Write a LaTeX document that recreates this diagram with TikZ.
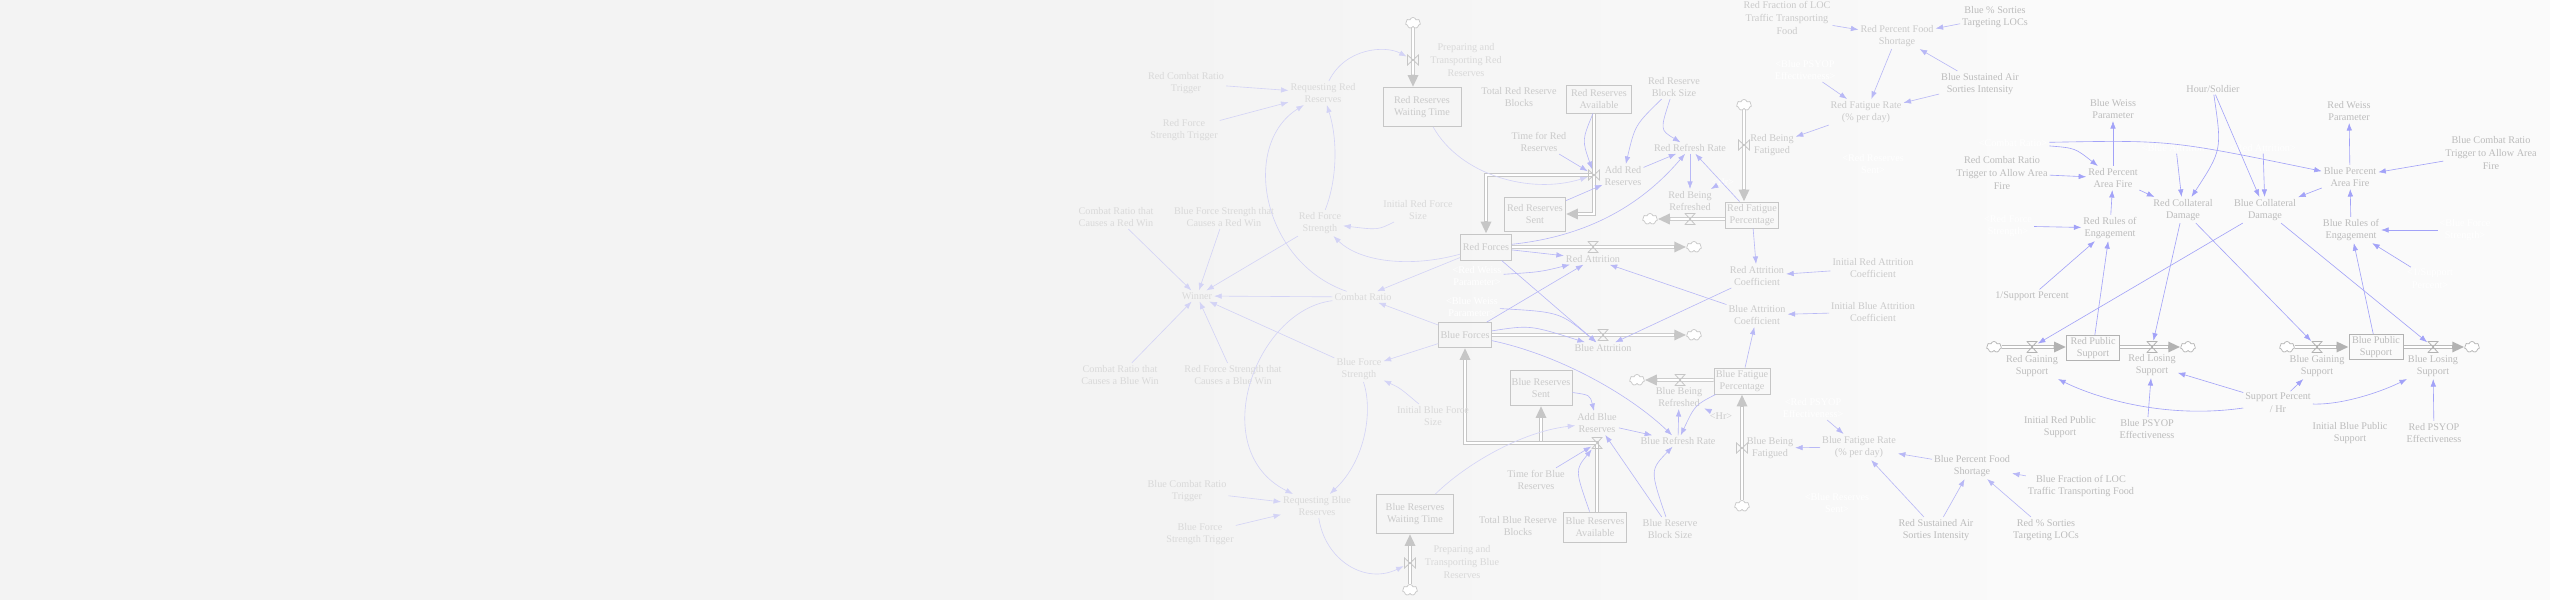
\documentclass[tikz,border=0pt]{standalone}
\usepackage{fontspec}
\setmainfont{Liberation Serif}
\usetikzlibrary{arrows.meta,shapes.symbols}
\pgfdeclarelayer{bg}\pgfdeclarelayer{pipes}\pgfsetlayers{bg,pipes,main}
\definecolor{bgL}{HTML}{F3F3F3}
\definecolor{bgR}{HTML}{FAFAFA}
\definecolor{txtL}{HTML}{D9D9D9}
\definecolor{txtC}{HTML}{CACACA}
\definecolor{txtR}{HTML}{BCBCBC}
\definecolor{arrL}{HTML}{D3D3F6}
\definecolor{arrC}{HTML}{B8B8F6}
\definecolor{arrR}{HTML}{A2A2F8}
\definecolor{pipeC}{HTML}{C6C6C6}
\definecolor{pipeR}{HTML}{B2B2B2}
\newcommand\vtxt{\fontsize{5.8}{7.2}\selectfont}
\newcommand\flowpipe[2][pipeC]{\draw[pipeout,#1] #2; \draw[pipein] #2;}

\begin{document}
\begin{tikzpicture}[x=0.2mm,y=-0.2mm,
 var/.style={align=center,font=\vtxt,inner sep=1pt,text=txtC},
 varL/.style={var,text=txtL}, varR/.style={var,text=txtR}, shadow/.style={var,text=white},
 stock/.style 2 args={draw=pipeC,line width=.5pt,align=center,font=\vtxt,text=txtC,inner sep=1pt,minimum width=#1*0.2mm,minimum height=#2*0.2mm},
 stockR/.style 2 args={stock={#1}{#2},draw=pipeR,text=txtR},
 lnk/.style={draw=arrC,line width=.35pt,-{Latex[length=1.5mm,width=1.1mm]}},
 lnkL/.style={lnk,draw=arrL}, lnkR/.style={lnk,draw=arrR},
 cloudy/.style={cloud,cloud puffs=7,cloud ignores aspect,draw=#1,fill=white,inner sep=0,minimum width=3mm,minimum height=2.2mm,line width=.4pt}, cloudy/.default=pipeC,
 valveH/.style={minimum width=2.2mm,minimum height=2.4mm,inner sep=0,path picture={\draw[#1,line width=.45pt] ([xshift=.3pt,yshift=-.3pt]path picture bounding box.north west) -- ([xshift=-.3pt,yshift=-.3pt]path picture bounding box.north east) -- ([xshift=.3pt,yshift=.3pt]path picture bounding box.south west) -- ([xshift=-.3pt,yshift=.3pt]path picture bounding box.south east) -- cycle;}}, valveH/.default=pipeC,
 valveV/.style={minimum width=2.4mm,minimum height=2.2mm,inner sep=0,path picture={\draw[#1,line width=.45pt] ([xshift=.3pt,yshift=-.3pt]path picture bounding box.north west) -- ([xshift=.3pt,yshift=.3pt]path picture bounding box.south west) -- ([xshift=-.3pt,yshift=-.3pt]path picture bounding box.north east) -- ([xshift=-.3pt,yshift=.3pt]path picture bounding box.south east) -- cycle;}}, valveV/.default=pipeC,
 pipeout/.style={line width=2.1pt,-{Triangle[length=2.4mm,width=2mm]}},
 pipein/.style={draw=white,line width=1.2pt,shorten >=2.5mm}]
\useasboundingbox (0,0) rectangle (2550,600);
\begin{pgfonlayer}{bg}
\fill[bgL] (0,0) rectangle (1150,600); \shade[left color=bgL,right color=bgR] (1149,0) rectangle (2051,600); \fill[bgR] (2050,0) rectangle (2550,600);
\end{pgfonlayer}

\node[stock={78}{39}] (rrwt) at (1422,107) {Red Reserves\\Waiting Time};
\node[stock={65}{28}] (rra) at (1599,99) {Red Reserves\\Available};
\node[stock={61}{34}] (rrs) at (1535,214) {Red Reserves\\Sent};
\node[stock={51}{26}] (rf) at (1486,247) {Red Forces};
\node[stock={51}{26}] (rfp) at (1752,215) {Red Fatigue\\Percentage};
\node[stock={52}{25}] (bf) at (1465,335) {Blue Forces};
\node[stock={62}{35}] (brs) at (1541,388) {Blue Reserves\\Sent};
\node[stock={77}{39}] (brwt) at (1415,514) {Blue Reserves\\Waiting Time};
\node[stock={63}{30}] (bra) at (1595,527) {Blue Reserves\\Available};
\node[stock={52}{26}] (bfp) at (1742,381) {Blue Fatigue\\Percentage};
\node[stockR={53}{25}] (rps) at (2093,348) {Red Public\\Support};
\node[stockR={54}{25}] (bps) at (2376,347) {Blue Public\\Support};

\node[valveV] (vrin) at (1413,60) {}; \node[valveV] (vadr) at (1594,175) {}; \node[valveH] (vra) at (1593,247) {}; \node[valveH] (vba) at (1603,335) {};
\node[valveH] (vrbr) at (1690,219) {}; \node[valveV] (vrbf) at (1744,145) {}; \node[valveH] (vbbr) at (1680,380) {}; \node[valveV] (vbbf) at (1742,448) {};
\node[valveV] (vbin) at (1410,563) {}; \node[valveH] (vadb) at (1597,443) {};
\node[valveH=pipeR] (vrgs) at (2032,347) {}; \node[valveH=pipeR] (vrls) at (2152,347) {}; \node[valveH=pipeR] (vbgs) at (2317,347) {}; \node[valveH=pipeR] (vbls) at (2433,347) {};
\node[cloudy] (c1) at (1413,23) {}; \node[cloudy] (c2) at (1694,247) {}; \node[cloudy] (c3) at (1694,335) {}; \node[cloudy] (c4) at (1650,219) {};
\node[cloudy] (c5) at (1744,105) {}; \node[cloudy] (c6) at (1637,380) {}; \node[cloudy] (c7) at (1742,506) {}; \node[cloudy] (c8) at (1410,590) {};
\node[cloudy=pipeR] (c9) at (1994,347) {}; \node[cloudy=pipeR] (c10) at (2188,347) {}; \node[cloudy=pipeR] (c11) at (2287,347) {}; \node[cloudy=pipeR] (c12) at (2472,347) {};

\begin{pgfonlayer}{pipes}
\flowpipe{(c1) -- (rrwt.north -| c1)}
\flowpipe{(vadr.center) -| (rf.north)}
\flowpipe{(rra.south -| vadr) |- (rrs.east)}
\flowpipe{(rf.east) -- (c2)} \flowpipe{(bf.east) -- (c3)}
\flowpipe{(rfp.west |- c4) -- (c4)} \flowpipe{(c5) -- (rfp.north -| c5)}
\flowpipe{(bfp.west |- c6) -- (c6)} \flowpipe{(c7) -- (bfp.south -| c7)}
\flowpipe{(c8) -- (brwt.south -| c8)}
\flowpipe{(brs.south |- vadb) -- (brs.south)}
\flowpipe{(bra.north -| vadb) -- (vadb.center) -| (bf.south)}
\flowpipe[pipeR]{(c9) -- (rps.west |- c9)} \flowpipe[pipeR]{(rps.east |- c10) -- (c10)}
\flowpipe[pipeR]{(c11) -- (bps.west)} \flowpipe[pipeR]{(bps.east) -- (c12)}
\end{pgfonlayer}

\node[varL] (rcrt) at (1186,83) {Red Combat Ratio\\Trigger};
\node[varL] (rfst) at (1184,130) {Red Force\\Strength Trigger};
\node[varL] (reqr) at (1323,93) {Requesting Red\\Reserves};
\node[varL] (prr) at (1466,60) {Preparing and\\Transporting Red\\Reserves};
\node[varL] (rfs) at (1320,223) {Red Force\\Strength};
\node[varL] (irfs) at (1418,210) {Initial Red Force\\Size};
\node[varL] (crrw) at (1116,217) {Combat Ratio that\\Causes a Red Win};
\node[varL] (bfsrw) at (1224,217) {Blue Force Strength that\\Causes a Red Win};
\node[varL] (win) at (1197,296) {Winner};
\node[varL] (cr) at (1363,297) {Combat Ratio};
\node[varL] (crbw) at (1120,375) {Combat Ratio that\\Causes a Blue Win};
\node[varL] (rfsbw) at (1233,375) {Red Force Strength that\\Causes a Blue Win};
\node[varL] (bfs) at (1359,369) {Blue Force\\Strength};
\node[varL] (ibfs) at (1433,416) {Initial Blue Force\\Size};
\node[varL] (bcrt) at (1187,491) {Blue Combat Ratio\\Trigger};
\node[varL] (bfst) at (1200,534) {Blue Force\\Strength Trigger};
\node[varL] (reqb) at (1317,506) {Requesting Blue\\Reserves};
\node[varL] (pbr) at (1462,562) {Preparing and\\Transporting Blue\\Reserves};

\node[var] (trrb) at (1519,97) {Total Red Reserve\\Blocks};
\node[var] (trr) at (1539,142) {Time for Red\\Reserves};
\node[var] (rrbs) at (1674,87) {Red Reserve\\Block Size};
\node[var] (addr) at (1623,176) {Add Red\\Reserves};
\node[var] (rrr) at (1690,148) {Red Refresh Rate};
\node[var] (rbr) at (1690,201) {Red Being\\Refreshed};
\node[shadow] (hr1) at (1723,182) {<Hr>};
\node[var] (rbf) at (1772,145) {Red Being\\Fatigued};
\node[var] (ratt) at (1593,259) {Red Attrition};
\node[shadow] (rwp) at (1477,276) {<Red Weiss\\Parameter>};
\node[shadow] (bwp) at (1472,307) {<Blue Weiss\\Parameter>};
\node[var] (batt) at (1603,348) {Blue Attrition};
\node[var] (rac) at (1757,276) {Red Attrition\\Coefficient};
\node[var] (irac) at (1873,268) {Initial Red Attrition\\Coefficient};
\node[var] (bac) at (1757,315) {Blue Attrition\\Coefficient};
\node[var] (ibac) at (1873,312) {Initial Blue Attrition\\Coefficient};
\node[var] (addb) at (1597,423) {Add Blue\\Reserves};
\node[var] (brr) at (1678,441) {Blue Refresh Rate};
\node[var] (bbr) at (1679,397) {Blue Being\\Refreshed};
\node[var] (hr2) at (1721,416) {<Hr>};
\node[var] (bbf) at (1770,448) {Blue Being\\Fatigued};
\node[var] (tbr) at (1536,480) {Time for Blue\\Reserves};
\node[var] (tbrb) at (1518,526) {Total Blue Reserve\\Blocks};
\node[var] (brbs) at (1670,529) {Blue Reserve\\Block Size};
\node[shadow] (bpsyop) at (1813,408) {<Red PSYOP\\Effectiveness>};
\node[var] (bfr) at (1859,447) {Blue Fatigue Rate\\(\% per day)};
\node[shadow] (brsent) at (1837,503) {<Blue Reserves\\Sent>};
\node[var] (rfloc) at (1787,18) {Red Fraction of LOC\\Traffic Transporting\\Food};
\node[var] (rpfs) at (1897,36) {Red Percent Food\\Shortage};
\node[shadow] (rpsyop) at (1805,70) {<Blue PSYOP\\Effectiveness>};
\node[var] (rfr) at (1866,112) {Red Fatigue Rate\\(\% per day)};
\node[shadow] (rrsent) at (1873,164) {<Red Reserves\\Sent>};

\node[varR] (bsl) at (1995,17) {Blue \% Sorties\\Targeting LOCs};
\node[varR] (bsas) at (1980,84) {Blue Sustained Air\\Sorties Intensity};
\node[varR] (bwpar) at (2113,109) {Blue Weiss\\Parameter};
\node[shadow] (crsh) at (2013,143) {<Combat Ratio>};
\node[varR] (rcrta) at (2002,173) {Red Combat Ratio\\Trigger to Allow Area\\Fire};
\node[varR] (rpaf) at (2113,178) {Red Percent\\Area Fire};
\node[shadow] (rfssh) at (2008,226) {<Red Force\\Strength>};
\node[varR] (rroe) at (2110,228) {Red Rules of\\Engagement};
\node[varR] (isp) at (2032,296) {1/Support Percent};
\node[varR] (hs) at (2213,89) {Hour/Soldier};
\node[shadow] (battsh) at (2176,148) {<Blue Attrition>};
\node[shadow] (rattsh) at (2263,148) {<Red Attrition>};
\node[varR] (rcd) at (2183,210) {Red Collateral\\Damage};
\node[varR] (bcd) at (2265,210) {Blue Collateral\\Damage};
\node[varR] (rwpar) at (2349,111) {Red Weiss\\Parameter};
\node[varR] (bcrta) at (2491,153) {Blue Combat Ratio\\Trigger to Allow Area\\Fire};
\node[varR] (bpaf) at (2350,177) {Blue Percent\\Area Fire};
\node[varR] (broe) at (2351,230) {Blue Rules of\\Engagement};
\node[shadow] (bfssh) at (2465,230) {<Blue Force\\Strength>};
\node[shadow] (ispsh) at (2430,279) {<1/Support\\Percent>};
\node[varR] (rgs) at (2032,366) {Red Gaining\\Support};
\node[varR] (rls) at (2152,365) {Red Losing\\Support};
\node[varR] (bgs) at (2317,366) {Blue Gaining\\Support};
\node[varR] (bls) at (2433,366) {Blue Losing\\Support};
\node[varR] (sph) at (2278,403) {Support Percent\\/ Hr};
\node[varR] (irps) at (2060,427) {Initial Red Public\\Support};
\node[varR] (bpsy) at (2147,429) {Blue PSYOP\\Effectiveness};
\node[varR] (ibps) at (2350,433) {Initial Blue Public\\Support};
\node[varR] (rpsy) at (2434,433) {Red PSYOP\\Effectiveness};
\node[varR] (bpfs) at (1972,466) {Blue Percent Food\\Shortage};
\node[varR] (bfloc) at (2081,486) {Blue Fraction of LOC\\Traffic Transporting Food};
\node[varR] (rsas) at (1936,530) {Red Sustained Air\\Sorties Intensity};
\node[varR] (rsl) at (2046,530) {Red \% Sorties\\Targeting LOCs};

\draw[lnkL] (rcrt) -- (reqr); \draw[lnkL] (rfst) -- (reqr);
\draw[lnkL] (reqr) .. controls (1345,48) and (1385,45) .. (vrin);
\draw[lnkL] (rfs) .. controls (1337,180) and (1338,140) .. (reqr);
\draw[lnkL] (cr) .. controls (1262,262) and (1240,145) .. (reqr);
\draw[lnkL] (irfs) .. controls (1378,230) .. (rfs);
\draw[lnkL] (rf) .. controls (1410,268) and (1360,262) .. (rfs);
\draw[lnkL] (rfs) -- (win); \draw[lnkL] (bfsrw) -- (win); \draw[lnkL] (crrw) -- (win); \draw[lnkL] (cr) -- (win);
\draw[lnkL] (bfs) -- (win); \draw[lnkL] (rfsbw) -- (win); \draw[lnkL] (crbw) -- (win);
\draw[lnkL] (rf) -- (cr); \draw[lnkL] (bf) -- (cr); \draw[lnkL] (bf) -- (bfs);
\draw[lnkL] (ibfs) .. controls (1400,388) .. (bfs);
\draw[lnkL] (cr) .. controls (1255,310) and (1205,450) .. (reqb);
\draw[lnkL] (bfs) .. controls (1373,410) and (1366,460) .. (reqb);
\draw[lnkL] (bcrt) -- (reqb); \draw[lnkL] (bfst) -- (reqb);
\draw[lnkL] (reqb) .. controls (1325,560) and (1365,585) .. (vbin);
\draw[lnkL] (rrwt) .. controls (1460,175) and (1530,195) .. (vadr);
\draw[lnkL] (brwt) .. controls (1465,465) and (1520,432) .. (addb);

\draw[lnk] (rf) .. controls (1600,235) and (1650,195) .. (rrr);
\draw[lnk] (rf) -- (ratt); \draw[lnk] (rwp) .. controls (1540,272) .. (ratt); \draw[lnk] (bf) -- (ratt); \draw[lnk] (bac) -- (ratt);
\draw[lnk] (rac) -- (batt); \draw[lnk] (rf) -- (batt); \draw[lnk] (bwp) .. controls (1560,312) .. (batt); \draw[lnk] (bf) .. controls (1530,325) .. (batt);
\draw[lnk] (bf) .. controls (1560,355) and (1630,395) .. (brr);
\draw[lnk] (rfp) -- (rac); \draw[lnk] (irac) -- (rac); \draw[lnk] (bfp) -- (bac); \draw[lnk] (ibac) -- (bac);
\draw[lnk] (rrbs) .. controls (1635,125) .. (addr); \draw[lnk] (rrbs) .. controls (1660,130) .. (rrr);
\draw[lnk] (rra) .. controls (1582,140) .. (vadr); \draw[lnk] (trr) -- (vadr); \draw[lnk] (rrs) -- (addr);
\draw[lnk] (addr) -- (rrr); \draw[lnk] (rrr) -- (rbr); \draw[lnk] (rfp) -- (rrr); \draw[lnk] (hr1) -- (rbr);
\draw[lnk] (rfr) -- (rbf); \draw[lnk] (rpsyop) -- (rfr); \draw[lnk] (rpfs) -- (rfr); \draw[lnk] (bsas) -- (rfr);
\draw[lnk] (rfloc) -- (rpfs); \draw[lnk] (bsl) -- (rpfs); \draw[lnk] (bsas) -- (rpfs);
\draw[lnk] (brs) .. controls (1590,395) .. (addb); \draw[lnk] (tbr) -- (vadb); \draw[lnk] (bra) .. controls (1575,470) .. (vadb);
\draw[lnk] (brbs) -- (addb); \draw[lnk] (brbs) .. controls (1650,470) .. (brr);
\draw[lnk] (addb) -- (brr); \draw[lnk] (brr) -- (bbr); \draw[lnk] (bfp) .. controls (1695,405) .. (brr); \draw[lnk] (hr2) -- (bbr);
\draw[lnk] (bfr) -- (bbf); \draw[lnk] (bpsyop) -- (bfr); \draw[lnk] (rsas) -- (bfr); \draw[lnk] (bpfs) -- (bfr);
\draw[lnk] (rsas) -- (bpfs); \draw[lnk] (rsl) -- (bpfs); \draw[lnk] (bfloc) -- (bpfs);

\draw[lnkR] (crsh) .. controls (2075,148) .. (rpaf); \draw[lnkR] (crsh) .. controls (2170,140) .. (bpaf);
\draw[lnkR] (rcrta) -- (rpaf); \draw[lnkR] (rpaf) -- (bwpar); \draw[lnkR] (rroe) -- (rpaf);
\draw[lnkR] (rfssh) -- (rroe); \draw[lnkR] (isp) -- (rroe); \draw[lnkR] (rps) -- (rroe);
\draw[lnkR] (rpaf) -- (rcd); \draw[lnkR] (battsh) -- (rcd); \draw[lnkR] (hs) .. controls (2222,150) .. (rcd);
\draw[lnkR] (hs) -- (bcd); \draw[lnkR] (rattsh) -- (bcd); \draw[lnkR] (bpaf) -- (bcd);
\draw[lnkR] (bcrta) -- (bpaf); \draw[lnkR] (bpaf) -- (rwpar); \draw[lnkR] (broe) -- (bpaf);
\draw[lnkR] (bfssh) -- (broe); \draw[lnkR] (ispsh) -- (broe); \draw[lnkR] (bps) -- (broe);
\draw[lnkR] (bcd) -- (vrgs); \draw[lnkR] (rcd) -- (vrls); \draw[lnkR] (rcd) -- (vbgs); \draw[lnkR] (bcd) -- (vbls);
\draw[lnkR] (sph) -- (rls); \draw[lnkR] (sph) .. controls (2160,420) and (2090,395) .. (rgs);
\draw[lnkR] (sph) -- (bgs); \draw[lnkR] (sph) .. controls (2345,405) and (2385,390) .. (bls);
\draw[lnkR] (bpsy) -- (rls); \draw[lnkR] (rpsy) -- (bls);
\end{tikzpicture}
\end{document}
